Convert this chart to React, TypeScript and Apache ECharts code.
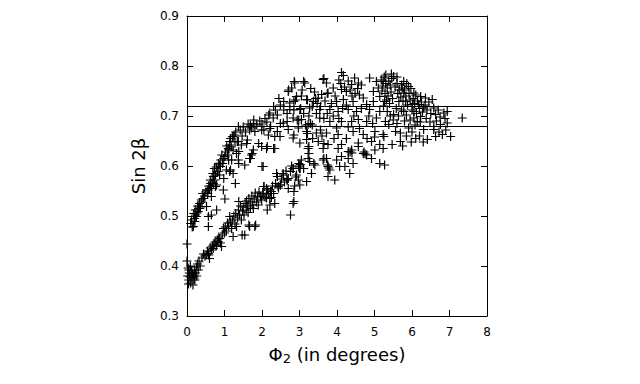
import React, { useEffect, useRef } from "react";
import * as echarts from "echarts";

const xTickValues = [0, 1, 2, 3, 4, 5, 6, 7, 8];
const yTickValues = [0.3, 0.4, 0.5, 0.6, 0.7, 0.8, 0.9];
const referenceLines = [0.716, 0.682];
const xTitle = ["Φ", "2", " (in degrees)"];
const yTitle = "Sin 2β";

const lowerBand: number[][] = [
  [0.00,0.444],[0.00,0.410],[0.02,0.380],[0.03,0.396],[0.05,0.372],[0.06,0.386],[0.08,0.378],[0.09,0.400],[0.10,0.366],
  [0.12,0.390],[0.13,0.376],[0.15,0.384],[0.16,0.362],[0.18,0.380],[0.20,0.392],[0.21,0.372],[0.23,0.386],[0.25,0.398],
  [0.26,0.380],[0.28,0.404],[0.30,0.392],[0.32,0.410],[0.35,0.400],[0.05,0.392],[0.11,0.382],[0.19,0.376],[0.04,0.364],
  [0.40,0.416],[0.44,0.424],[0.48,0.420],[0.52,0.422],[0.55,0.430],[0.57,0.425],[0.60,0.415],[0.62,0.436],[0.65,0.432],
  [0.68,0.440],[0.70,0.435],[0.72,0.444],[0.75,0.448],[0.78,0.440],[0.79,0.442],[0.81,0.452],[0.83,0.449],[0.85,0.458],
  [0.87,0.455],[0.89,0.446],[0.92,0.439],[0.94,0.462],[0.97,0.475],[1.00,0.466],[1.02,0.478],[1.05,0.470],[1.08,0.486],
  [1.11,0.480],[1.14,0.499],[1.16,0.488],[1.19,0.475],[1.21,0.492],[1.23,0.459],[1.25,0.500],[1.28,0.484],[1.30,0.505],
  [1.32,0.479],[1.35,0.496],[1.37,0.512],[1.40,0.502],[1.43,0.520],[1.45,0.492],[1.47,0.462],[1.48,0.510],[1.50,0.518],
  [1.52,0.502],[1.54,0.462],[1.55,0.525],[1.58,0.512],[1.59,0.530],[1.62,0.520],[1.63,0.507],[1.65,0.482],[1.65,0.535],
  [1.67,0.479],[1.69,0.516],[1.70,0.528],[1.73,0.540],[1.75,0.522],[1.77,0.515],[1.79,0.534],[1.81,0.479],[1.83,0.482],
  [1.82,0.546],[1.85,0.528],[1.88,0.538],[1.90,0.522],[1.92,0.548],[1.96,0.539],[1.99,0.532],[2.02,0.545],[2.05,0.559],
  [2.08,0.538],[2.12,0.536],[2.14,0.512],[2.15,0.552],[2.18,0.545],[2.21,0.522],[2.23,0.549],[2.25,0.537],[2.28,0.560],
  [2.31,0.545],[2.34,0.525],[2.36,0.565],[2.41,0.579],[2.44,0.556],[2.49,0.562],[2.52,0.574],[2.56,0.585],[2.60,0.568],
  [2.64,0.590],[2.67,0.572],[2.70,0.555],[2.70,0.575],[2.76,0.502],[2.76,0.589],[2.79,0.600],[2.83,0.525],[2.83,0.595],
  [2.85,0.529],[2.85,0.549],[2.87,0.560],[2.90,0.578],[2.92,0.582],[2.97,0.572],[3.00,0.600],[3.01,0.562],[3.01,0.595],
  [0.58,0.422],[1.38,0.529],[1.01,0.534],[1.29,0.565],[2.03,0.542],[2.21,0.535],[1.96,0.539],[2.05,0.559],[2.12,0.555],
  [2.25,0.549],[2.43,0.559],[2.49,0.562],[2.67,0.572]
];

const upperBand: number[][] = [
  [0.10,0.485],[0.12,0.492],[0.14,0.478],[0.17,0.479],[0.18,0.505],[0.20,0.495],[0.21,0.489],[0.22,0.512],[0.23,0.502],
  [0.25,0.499],[0.27,0.506],[0.28,0.520],[0.30,0.509],[0.31,0.515],[0.33,0.525],[0.34,0.515],[0.36,0.518],[0.38,0.532],
  [0.40,0.528],[0.42,0.545],[0.43,0.535],[0.45,0.535],[0.47,0.540],[0.50,0.548],[0.52,0.519],[0.54,0.552],[0.55,0.545],
  [0.57,0.499],[0.57,0.479],[0.57,0.552],[0.58,0.560],[0.60,0.555],[0.62,0.572],[0.63,0.565],[0.65,0.502],[0.65,0.539],
  [0.65,0.555],[0.67,0.568],[0.69,0.585],[0.70,0.565],[0.71,0.579],[0.73,0.595],[0.74,0.572],[0.76,0.582],[0.76,0.559],
  [0.78,0.598],[0.79,0.512],[0.79,0.562],[0.81,0.589],[0.83,0.589],[0.84,0.605],[0.87,0.582],[0.87,0.602],[0.89,0.599],
  [0.90,0.612],[0.93,0.622],[0.95,0.605],[0.97,0.552],[0.98,0.615],[0.98,0.575],[1.01,0.619],[1.03,0.628],[1.05,0.592],
  [1.06,0.640],[1.08,0.622],[1.10,0.635],[1.11,0.612],[1.11,0.632],[1.13,0.642],[1.14,0.589],[1.14,0.649],[1.16,0.592],
  [1.16,0.655],[1.18,0.638],[1.19,0.612],[1.21,0.659],[1.23,0.585],[1.23,0.632],[1.23,0.659],[1.26,0.662],[1.28,0.648],
  [1.30,0.668],[1.32,0.625],[1.34,0.649],[1.37,0.612],[1.37,0.649],[1.37,0.679],[1.38,0.605],[1.38,0.629],[1.42,0.672],
  [1.45,0.642],[1.47,0.660],[1.50,0.678],[1.54,0.602],[1.56,0.668],[1.59,0.645],[1.61,0.652],[1.63,0.684],[1.67,0.615],
  [1.67,0.672],[1.69,0.682],[1.69,0.615],[1.72,0.622],[1.72,0.676],[1.74,0.625],[1.77,0.632],[1.77,0.685],[1.78,0.692],
  [1.81,0.669],[1.86,0.682],[1.91,0.645],[1.94,0.690],[1.99,0.639],[1.99,0.672],[2.00,0.599],[2.00,0.684],[2.03,0.599],
  [2.05,0.672],[2.08,0.695],[2.12,0.635],[2.13,0.688],[2.14,0.639],[2.17,0.662],[2.18,0.702],[2.21,0.675],[2.21,0.706],
  [2.23,0.679],[2.30,0.696],[2.31,0.635],[2.31,0.719],[2.34,0.659],[2.34,0.635],[2.36,0.712],[2.39,0.585],[2.41,0.702],
  [2.41,0.669],[2.41,0.579],[2.45,0.735],[2.48,0.659],[2.49,0.722],[2.49,0.685],[2.57,0.582],[2.57,0.686],[2.58,0.729],
  [2.58,0.712],[2.67,0.705],[2.67,0.689]
];

const middleRegion: number[][] = [
  [2.86,0.769],[3.11,0.769],[3.65,0.775],[2.71,0.752],[3.07,0.752],[2.89,0.732],[3.21,0.732],[3.43,0.735],[3.74,0.745],
  [2.85,0.712],[3.03,0.715],[3.34,0.719],[3.56,0.719],[2.94,0.692],[3.16,0.682],[3.29,0.685],[2.85,0.729],[3.11,0.705],
  [3.47,0.725],[3.74,0.705],[2.98,0.692],[3.34,0.682],[2.85,0.662],[3.21,0.665],[3.56,0.672],[3.25,0.639],[3.65,0.645],
  [3.25,0.625],[3.65,0.615],[2.98,0.605],[3.11,0.595],[3.38,0.605],[4.12,0.787],[4.17,0.781],[3.14,0.766],[2.87,0.766],
  [3.63,0.773],[3.72,0.766],[2.79,0.756],[2.70,0.749],[4.47,0.776],[4.57,0.766],[4.39,0.763],[4.87,0.776],[5.05,0.769],
  [5.23,0.769],[5.10,0.756],[4.97,0.749],[4.25,0.749],[4.12,0.753],[3.90,0.756],[3.76,0.746],[3.59,0.743],[3.19,0.733],
  [2.92,0.739],[2.74,0.726],[3.37,0.729],[3.50,0.736],[3.99,0.729],[4.17,0.733],[4.43,0.729],[4.70,0.736],[4.79,0.723],
  [4.97,0.729],[5.14,0.739],[5.27,0.729],[2.74,0.713],[3.01,0.713],[3.27,0.716],[3.54,0.713],[3.81,0.713],[4.03,0.709],
  [4.30,0.713],[4.52,0.709],[4.87,0.713],[5.14,0.709],[2.83,0.696],[3.05,0.693],[3.23,0.683],[3.54,0.696],[3.81,0.689],
  [3.99,0.676],[4.12,0.689],[4.39,0.689],[4.57,0.693],[4.79,0.689],[5.05,0.696],[2.70,0.673],[2.97,0.676],[3.19,0.669],
  [3.45,0.666],[3.72,0.666],[4.03,0.663],[4.43,0.669],[4.70,0.663],[5.01,0.669],[5.23,0.663],[3.19,0.653],[3.50,0.649],
  [3.76,0.643],[4.12,0.643],[4.57,0.646],[4.92,0.649],[5.14,0.643],[2.83,0.656],[3.01,0.646],[2.83,0.595],[3.01,0.595],
  [3.05,0.612],[3.23,0.615],[3.23,0.635],[3.27,0.609],[3.41,0.602],[3.32,0.585],[3.19,0.569],[3.63,0.635],[3.72,0.615],
  [3.76,0.599],[3.81,0.592],[3.76,0.579],[3.94,0.572],[4.03,0.635],[4.07,0.599],[4.21,0.599],[4.34,0.585],[4.30,0.629],
  [4.39,0.632],[4.43,0.605],[4.57,0.639],[4.70,0.625],[4.79,0.622],[4.92,0.615],[5.01,0.632],[5.14,0.605],[5.27,0.602],
  [5.23,0.635],[3.99,0.612],[3.63,0.612],[4.12,0.619],[4.30,0.615],[3.02,0.603],[2.98,0.598],[3.75,0.602],[3.78,0.596],
  [4.35,0.628],[4.40,0.626],[4.72,0.628],[4.75,0.624],[4.05,0.772],[4.10,0.765],[4.20,0.758],[4.30,0.770],[4.35,0.752],
  [4.48,0.745],[4.55,0.755],[4.60,0.742],[4.65,0.762],[4.40,0.740],[4.25,0.722],[4.15,0.715],[3.95,0.740],[3.85,0.725],
  [3.68,0.730],[3.40,0.748],[3.30,0.755],[3.05,0.740],[3.25,0.700],[3.45,0.705],[3.65,0.695],[3.90,0.700],[4.05,0.695],
  [4.45,0.700],[4.65,0.715],[4.85,0.700],[4.95,0.685],[4.60,0.675],[4.30,0.678],[4.25,0.655],[3.92,0.655],[3.60,0.660],
  [3.35,0.655],[4.80,0.655],[5.00,0.658]
];

const rightCluster: number[][] = [
  [5.51,0.779],[5.78,0.769],[5.91,0.759],[5.74,0.756],[6.05,0.746],[6.23,0.739],[6.36,0.736],[6.54,0.733],[5.78,0.746],
  [5.65,0.729],[5.83,0.729],[6.01,0.723],[6.18,0.723],[6.31,0.716],[6.58,0.716],[6.63,0.703],[6.85,0.706],[6.94,0.709],
  [7.34,0.696],[6.94,0.686],[7.03,0.659],[6.76,0.683],[6.58,0.679],[6.81,0.663],[6.63,0.659],[6.41,0.653],[6.58,0.673],
  [6.31,0.673],[6.14,0.689],[5.91,0.676],[5.69,0.666],[5.56,0.669],[5.38,0.683],[5.29,0.689],[5.69,0.649],[5.47,0.643],
  [5.25,0.659],[6.05,0.709],[5.78,0.709],[5.51,0.703],[5.34,0.709],[6.23,0.699],[6.05,0.696],[5.18,0.772],[5.22,0.760],
  [5.26,0.778],[5.30,0.765],[5.34,0.756],[5.38,0.770],[5.42,0.762],[5.46,0.775],[5.20,0.750],[5.28,0.745],[5.36,0.740],
  [5.44,0.748],[5.48,0.735],[5.40,0.725],[5.32,0.732],[5.24,0.720],[5.55,0.758],[5.60,0.765],[5.62,0.745],[5.66,0.752],
  [5.70,0.738],[5.72,0.762],[5.76,0.730],[5.80,0.752],[5.84,0.740],[5.86,0.765],[5.88,0.722],[5.92,0.745],[5.95,0.732],
  [5.97,0.755],[6.00,0.712],[6.03,0.735],[6.07,0.725],[6.10,0.742],[6.12,0.705],[6.15,0.730],[6.20,0.715],[6.25,0.728],
  [6.28,0.708],[6.35,0.722],[6.40,0.712],[6.45,0.728],[6.50,0.705],[5.58,0.715],[5.64,0.700],[5.72,0.712],[5.85,0.702],
  [5.95,0.692],[6.08,0.682],[6.22,0.688],[6.38,0.695],[6.48,0.688],[5.60,0.685],[5.80,0.690],[5.50,0.692],[5.42,0.700],
  [5.85,0.660],[6.00,0.668],[6.20,0.660],[6.30,0.648],[5.98,0.648],[5.75,0.640],[6.10,0.655],[6.70,0.712],[6.75,0.698],
  [6.88,0.695],[6.65,0.690],[6.72,0.668],[6.90,0.672],[5.30,0.782],[5.45,0.784],[5.60,0.778]
];

const FONT = "DejaVu Sans";

export default function App() {
  const ref = useRef<HTMLDivElement>(null);
  useEffect(() => {
    document.body.style.margin = "0";
    const chart = echarts.init(ref.current!, null, { renderer: "svg" });
    const points = [...lowerBand, ...upperBand, ...middleRegion, ...rightCluster];
    const axisLine = { show: true, onZero: false, lineStyle: { color: "#000", width: 1 } };
    const axisTick = { show: true, inside: true, length: 6, lineStyle: { color: "#000", width: 1 } };
    const xMin = xTickValues[0];
    const xMax = xTickValues[xTickValues.length - 1];
    const yMin = yTickValues[0];
    const yMax = yTickValues[yTickValues.length - 1];
    chart.setOption({
      animation: false,
      grid: { left: 187, top: 16, width: 300, height: 300 },
      xAxis: [
        {
          type: "value", min: xMin, max: xMax, interval: 1, position: "bottom",
          axisLine, axisTick, splitLine: { show: false },
          axisLabel: { color: "#000", fontFamily: FONT, fontSize: 12, margin: 10 },
          name: `{a|${xTitle[0]}}{b|${xTitle[1]}}{a|${xTitle[2]}}`,
          nameLocation: "middle", nameGap: 27,
          nameTextStyle: {
            rich: {
              a: { fontFamily: FONT, fontSize: 18, color: "#000" },
              b: { fontFamily: FONT, fontSize: 13, color: "#000", padding: [9, 0, 0, 0] },
            },
          },
        },
        {
          type: "value", min: xMin, max: xMax, interval: 1, position: "top",
          axisLine, axisTick, splitLine: { show: false }, axisLabel: { show: false },
        },
      ],
      yAxis: [
        {
          type: "value", min: yMin, max: yMax, interval: 0.1, position: "left",
          axisLine, axisTick, splitLine: { show: false },
          axisLabel: { color: "#000", fontFamily: FONT, fontSize: 12, margin: 8, formatter: (v: number) => v.toFixed(1) },
          name: yTitle, nameLocation: "middle", nameGap: 40,
          nameTextStyle: { fontFamily: FONT, fontSize: 18, color: "#000" },
        },
        {
          type: "value", min: yMin, max: yMax, interval: 0.1, position: "right",
          axisLine, axisTick, splitLine: { show: false }, axisLabel: { show: false },
        },
      ],
      series: [
        {
          type: "scatter",
          xAxisIndex: 0,
          yAxisIndex: 0,
          data: points,
          symbol: "path://M5 0V10M0 5H10",
          symbolSize: 9,
          itemStyle: { color: "none", borderColor: "#000", borderWidth: 1.2, opacity: 1 },
          emphasis: { disabled: true },
          markLine: {
            silent: true,
            symbol: ["none", "none"],
            label: { show: false },
            lineStyle: { color: "#000", width: 1, type: "solid" },
            emphasis: { disabled: true },
            data: referenceLines.map((v) => ({ yAxis: v })),
          },
        },
      ],
    });
    return () => chart.dispose();
  }, []);
  return <div ref={ref} style={{ width: 640, height: 384 }} />;
}
